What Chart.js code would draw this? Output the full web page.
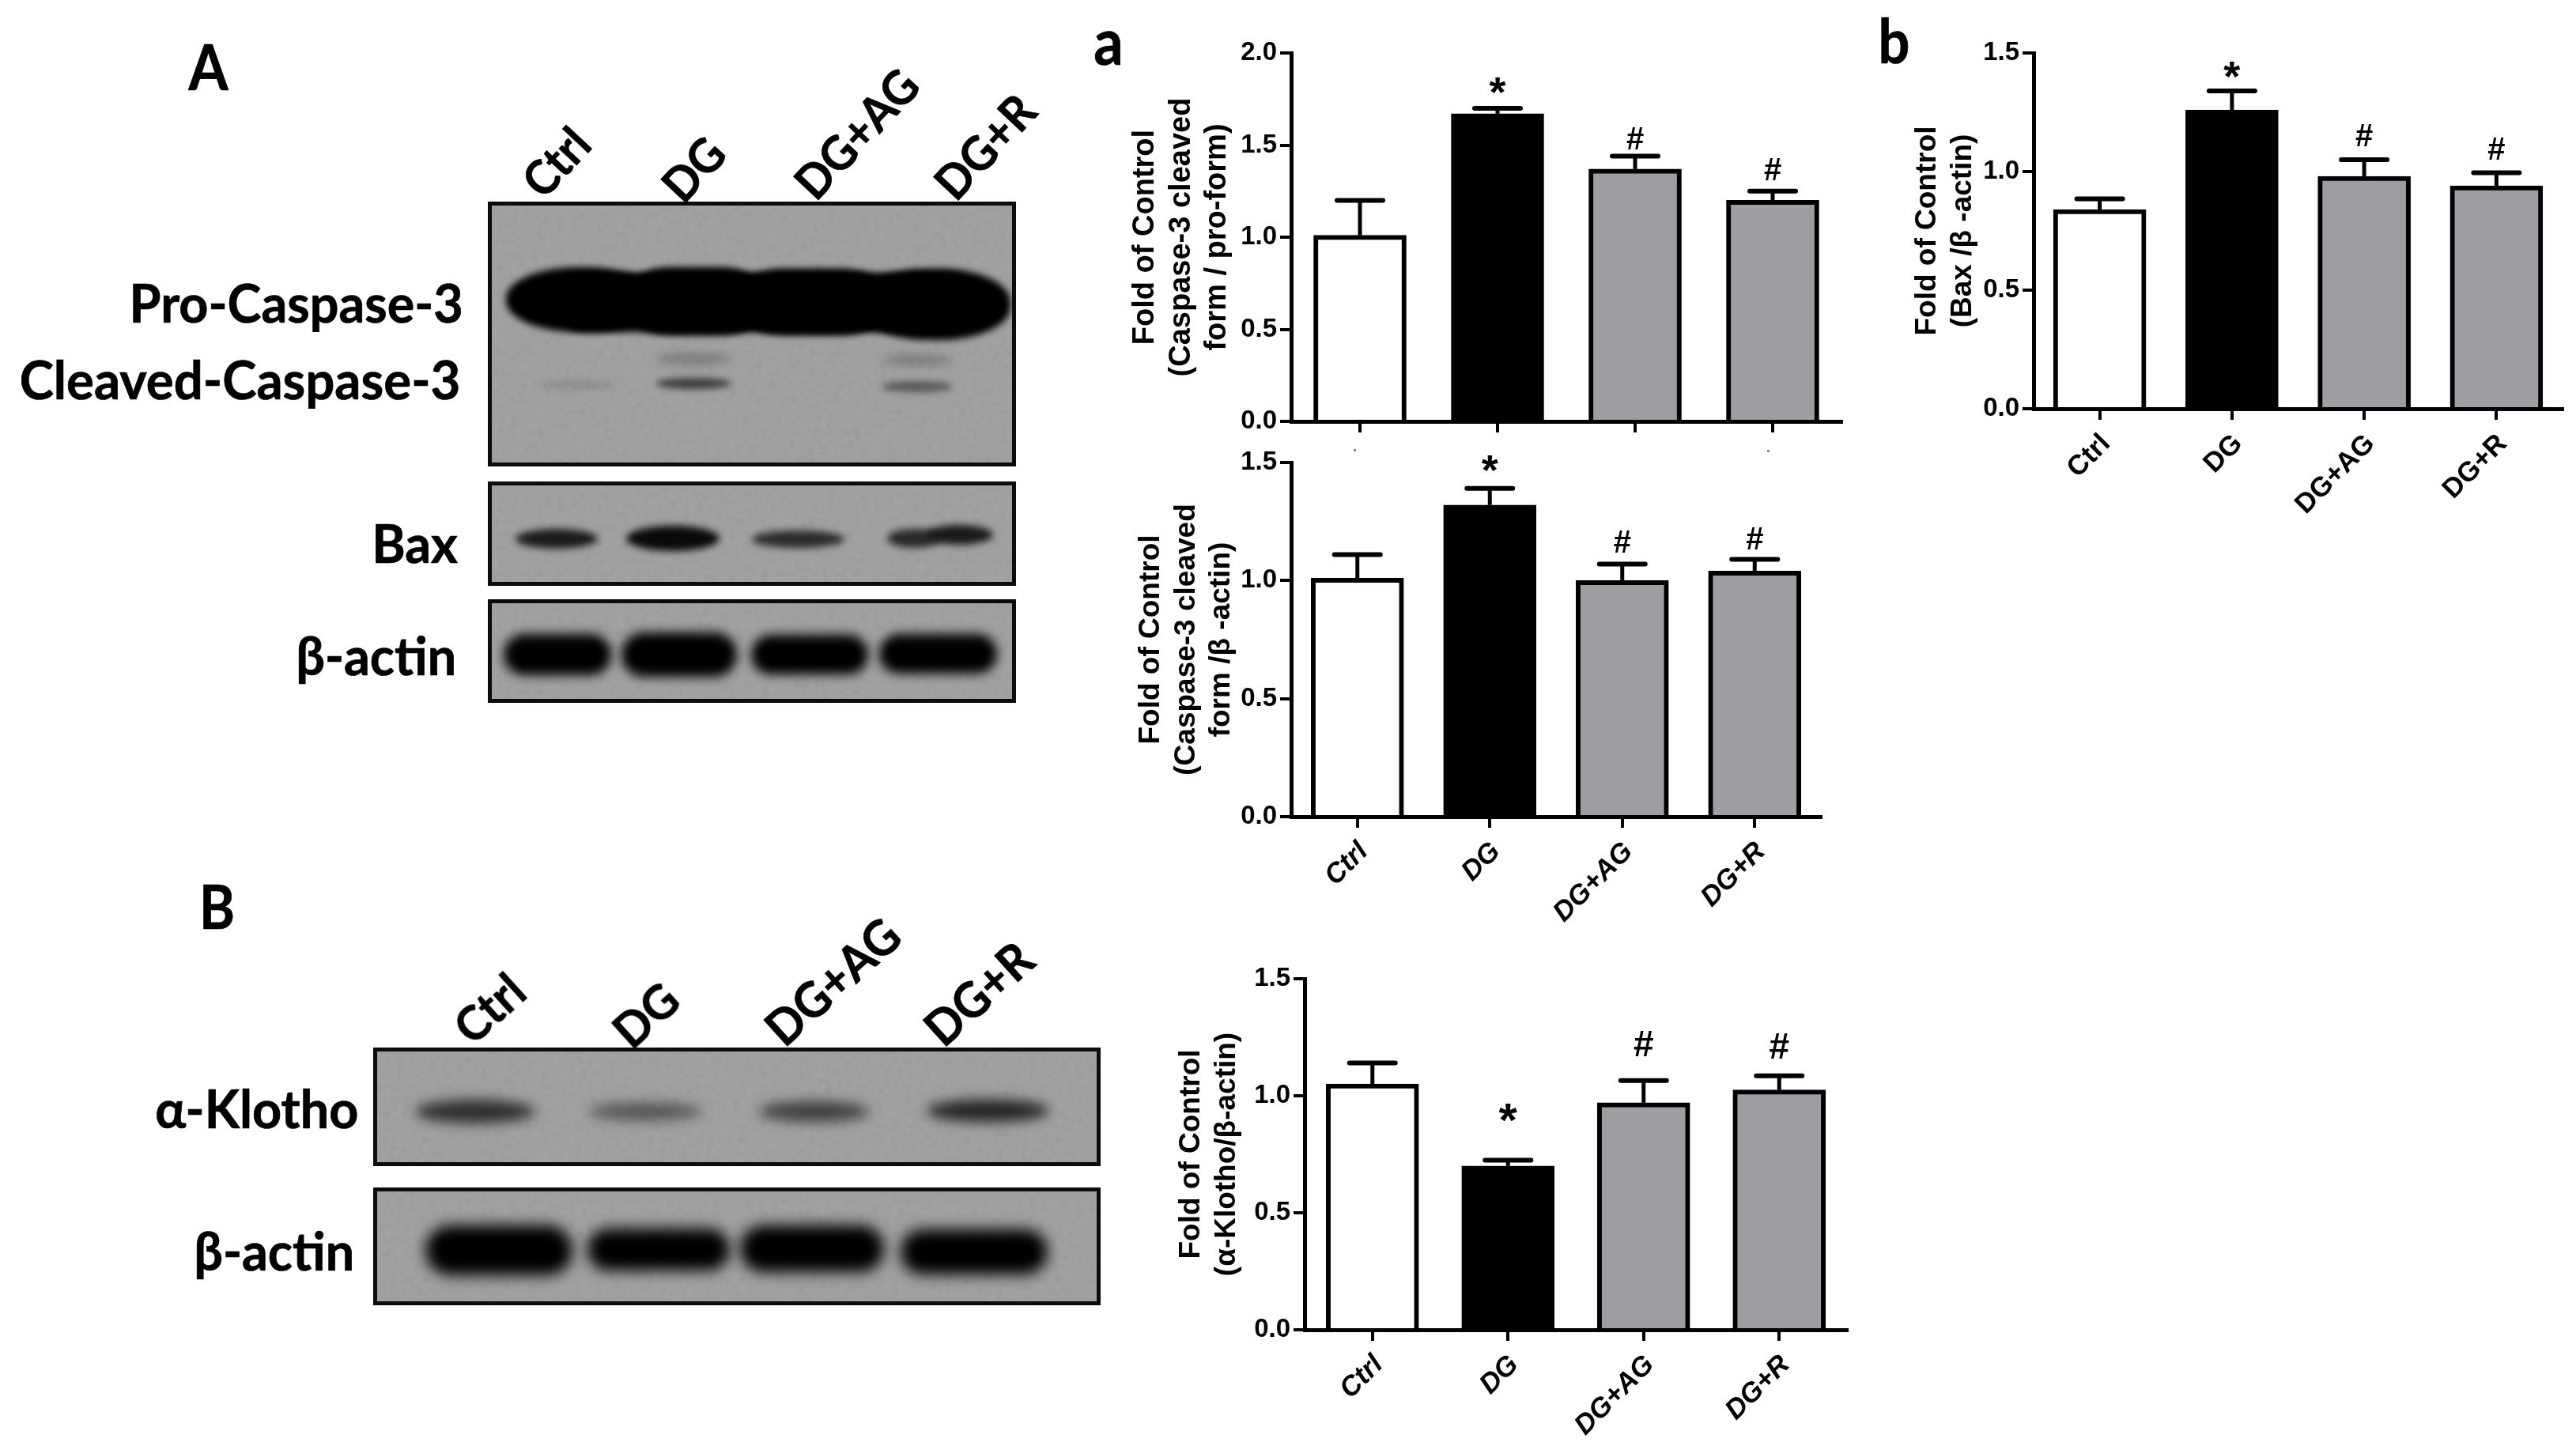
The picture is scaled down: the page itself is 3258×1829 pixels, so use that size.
<!DOCTYPE html>
<html lang="en">
<head>
<meta charset="UTF-8">
<title>Caspase-3, Bax and alpha-Klotho blots</title>
<style>
    html, body { margin: 0; padding: 0; background: #fff; }
    #page { position: relative; width: 3258px; height: 1829px; overflow: hidden; background: #fff; }
    canvas { position: absolute; }
    .lbl { position: absolute; font-family: Lato, sans-serif; font-weight: 700; color: #000; white-space: nowrap; line-height: 1; -webkit-text-stroke: .7px #000; }
    .blot { position: absolute; box-sizing: border-box; border: 5px solid #0c0c0c; background: #a4a4a4; overflow: hidden; }
    .band { position: absolute; background: #000; }
    .grain { position: absolute; inset: 0; opacity: .18; mix-blend-mode: multiply;
        background-image: url("data:image/svg+xml,%3Csvg xmlns='http://www.w3.org/2000/svg' width='400' height='400'%3E%3Cfilter id='n'%3E%3CfeTurbulence type='fractalNoise' baseFrequency='.12' numOctaves='3'/%3E%3CfeColorMatrix type='saturate' values='0'/%3E%3C/filter%3E%3Crect width='400' height='400' filter='url(%23n)'/%3E%3C/svg%3E"); }
</style>
</head>
<body>
<div id="page"></div>

<script src="https://cdn.jsdelivr.net/npm/chart.js"></script>
<script>
    // values
    const categories = ['Ctrl', 'DG', 'DG+AG', 'DG+R'];

    const cleavedProValues = [1.01, 1.67, 1.37, 1.20];
    const cleavedProErrors = [0.19, 0.03, 0.07, 0.05];
    const cleavedProMarks = ['', '*', '#', '#'];
    const cleavedProTicks = [0, 0.5, 1.0, 1.5, 2.0];

    const cleavedActinValues = [1.01, 1.32, 1.00, 1.04];
    const cleavedActinErrors = [0.10, 0.07, 0.07, 0.05];
    const cleavedActinMarks = ['', '*', '#', '#'];
    const cleavedActinTicks = [0, 0.5, 1.0, 1.5];

    const baxValues = [0.84, 1.26, 0.98, 0.94];
    const baxErrors = [0.045, 0.08, 0.07, 0.055];
    const baxMarks = ['', '*', '#', '#'];
    const baxTicks = [0, 0.5, 1.0, 1.5];

    const klothoValues = [1.05, 0.70, 0.97, 1.025];
    const klothoErrors = [0.09, 0.025, 0.095, 0.06];
    const klothoMarks = ['', '*', '#', '#'];
    const klothoTicks = [0, 0.5, 1.0, 1.5];

    const page = document.getElementById('page');
    const sansFont = "'Liberation Sans', Arial, sans-serif";
    const barColors = ['#ffffff', '#000000', '#9e9ea2', '#9e9ea2'];

    Chart.defaults.font.family = sansFont;
    Chart.defaults.color = '#000';
    Chart.defaults.animation = false;

    // error bars and the * / # signs, placed through the y scale
    const errorBars = {
        id: 'errorBars',
        afterDatasetsDraw(chart, args, opts) {
            const ctx = chart.ctx;
            const y = chart.scales.y;
            const bars = chart.getDatasetMeta(0).data;
            ctx.save();
            ctx.strokeStyle = '#000';
            ctx.fillStyle = '#000';
            bars.forEach((bar, i) => {
                const v = chart.data.datasets[0].data[i];
                const top = y.getPixelForValue(v + opts.errors[i]);
                ctx.lineWidth = 5;
                ctx.lineCap = 'butt';
                ctx.beginPath();
                ctx.moveTo(bar.x, y.getPixelForValue(v));
                ctx.lineTo(bar.x, top);
                ctx.stroke();
                ctx.lineWidth = 6;
                ctx.lineCap = 'round';
                ctx.beginPath();
                ctx.moveTo(bar.x - 29, top);
                ctx.lineTo(bar.x + 29, top);
                ctx.stroke();
                if (opts.marks[i]) {
                    const star = opts.marks[i] === '*';
                    ctx.font = 'bold ' + (star ? opts.starSize : opts.hashSize) + 'px ' + sansFont;
                    ctx.textAlign = 'center';
                    ctx.textBaseline = 'middle';
                    ctx.fillText(opts.marks[i], bar.x, top - opts.gaps[i] + (star ? 8 : 0));
                }
            });
            ctx.restore();
        }
    };

    function barPanel(p) {
        const pad = 40;
        const canvas = document.createElement('canvas');
        canvas.width = p.right - p.left + 12;
        canvas.height = p.zero - p.top + pad + p.xSpace;
        canvas.style.left = p.left + 'px';
        canvas.style.top = (p.top - pad) + 'px';
        page.appendChild(canvas);

        new Chart(canvas, {
            type: 'bar',
            data: {
                labels: categories,
                datasets: [{
                    data: p.values,
                    backgroundColor: barColors,
                    borderColor: '#000',
                    borderWidth: 6,
                    barThickness: 117
                }]
            },
            options: {
                responsive: false,
                layout: { padding: { top: pad, right: 12, left: 0, bottom: 0 } },
                plugins: {
                    legend: { display: false },
                    tooltip: { enabled: false },
                    errorBars: { errors: p.errors, marks: p.marks, gaps: p.gaps, starSize: p.starSize, hashSize: p.hashSize }
                },
                scales: {
                    x: {
                        z: 1,
                        afterFit: s => { s.height = p.xSpace; },
                        border: { color: '#000', width: 5 },
                        grid: { offset: false, drawOnChartArea: false, color: '#000', lineWidth: 4, tickLength: 14 },
                        ticks: {
                            display: p.showLabels,
                            autoSkip: false,
                            minRotation: 45,
                            maxRotation: 45,
                            padding: 10,
                            labelOffset: 8,
                            font: { size: 35, weight: 'bold', style: p.italic ? 'italic' : 'normal' }
                        }
                    },
                    y: {
                        min: 0,
                        max: p.ticks[p.ticks.length - 1],
                        afterFit: s => { s.width = p.axis - p.left; },
                        afterBuildTicks: s => { s.ticks = p.ticks.map(v => ({ value: v })); },
                        border: { color: '#000', width: 5 },
                        grid: { drawOnChartArea: false, color: '#000', lineWidth: 4, tickLength: 14 },
                        ticks: {
                            padding: 4,
                            font: { size: 33, weight: 'bold' },
                            callback: v => v.toFixed(1)
                        },
                        title: {
                            display: true,
                            text: p.title,
                            padding: 0,
                            font: { size: p.titleSize, weight: 'bold', lineHeight: 1.2 }
                        }
                    }
                }
            },
            plugins: [errorBars]
        });
    }

    barPanel({
        left: 1426, axis: 1633, right: 2329, top: 67, zero: 533, xSpace: 30,
        values: cleavedProValues, errors: cleavedProErrors, marks: cleavedProMarks, ticks: cleavedProTicks,
        gaps: [0, 25, 20, 25], starSize: 54, hashSize: 40, showLabels: false, italic: false, titleSize: 38,
        title: ['Fold of Control', '(Caspase-3 cleaved', 'form / pro-form)']
    });
    barPanel({
        left: 1434, axis: 1633, right: 2303, top: 585, zero: 1033, xSpace: 170,
        values: cleavedActinValues, errors: cleavedActinErrors, marks: cleavedActinMarks, ticks: cleavedActinTicks,
        gaps: [0, 28, 25, 23], starSize: 54, hashSize: 40, showLabels: true, italic: true, titleSize: 37,
        title: ['Fold of Control', '(Caspase-3 cleaved', 'form /\u03b2 -actin)']
    });
    barPanel({
        left: 2416, axis: 2572, right: 3241, top: 67, zero: 517, xSpace: 170,
        values: baxValues, errors: baxErrors, marks: baxMarks, ticks: baxTicks,
        gaps: [0, 23, 28, 28], starSize: 54, hashSize: 40, showLabels: true, italic: false, titleSize: 37,
        title: ['Fold of Control', '(Bax /\u03b2 -actin)']
    });
    barPanel({
        left: 1485, axis: 1650, right: 2336, top: 1238, zero: 1682, xSpace: 147,
        values: klothoValues, errors: klothoErrors, marks: klothoMarks, ticks: klothoTicks,
        gaps: [0, 55, 43, 35], starSize: 60, hashSize: 46, showLabels: true, italic: true, titleSize: 37,
        title: ['Fold of Control', '(\u03b1-Klotho/\u03b2-actin)']
    });

    // ---- western blot pictures, plain DOM ----
    function label(text, x, y, size, opts) {
        // x,y is the right-middle of the text
        const o = opts || {};
        const el = document.createElement('div');
        el.className = 'lbl';
        el.textContent = text;
        el.style.fontSize = size + 'px';
        el.style.top = (y - size / 2) + 'px';
        el.style.right = (3258 - x) + 'px';
        el.style.transformOrigin = 'right center';
        el.style.transform = (o.rot ? 'rotate(' + o.rot + 'deg) ' : '') + 'scaleX(' + (o.sx || 1) + ')';
        page.appendChild(el);
    }

    function blot(x1, y1, x2, y2, bands) {
        const el = document.createElement('div');
        el.className = 'blot';
        el.style.left = x1 + 'px';
        el.style.top = y1 + 'px';
        el.style.width = (x2 - x1) + 'px';
        el.style.height = (y2 - y1) + 'px';
        bands.forEach(b => {
            const d = document.createElement('div');
            d.className = 'band';
            d.style.left = (b[0] - x1 - 5) + 'px';
            d.style.top = (b[1] - y1 - 5) + 'px';
            d.style.width = (b[2] - b[0]) + 'px';
            d.style.height = (b[3] - b[1]) + 'px';
            d.style.background = b[4];
            d.style.filter = 'blur(' + b[5] + 'px)';
            d.style.borderRadius = (b[6] === undefined ? '50%' : b[6]);
            el.appendChild(d);
        });
        const g = document.createElement('div');
        g.className = 'grain';
        el.appendChild(g);
        page.appendChild(el);
    }

    blot(617, 255, 1285, 590, [
        [640, 338, 830, 420, '#000', 4, '48%'],
        [720, 345, 1220, 420, '#000', 4, '8%'],
        [800, 338, 960, 424, '#000', 4, '30%'],
        [940, 340, 1115, 424, '#000', 4, '30%'],
        [1085, 340, 1278, 430, '#000', 4, '46%'],
        [680, 482, 780, 492, '#8e8e8e', 4],
        [830, 478, 925, 492, '#3e3e3e', 4],
        [830, 447, 925, 461, '#7c7c7c', 6],
        [1115, 482, 1205, 496, '#5a5a5a', 4],
        [1115, 449, 1205, 462, '#7c7c7c', 6]
    ]);
    blot(617, 609, 1285, 741, [
        [652, 669, 756, 694, '#1c1c1c', 5],
        [792, 665, 910, 697, '#0a0a0a', 5],
        [951, 671, 1068, 693, '#2c2c2c', 5],
        [1122, 669, 1190, 693, '#2a2a2a', 5],
        [1170, 664, 1256, 689, '#1a1a1a', 5]
    ]);
    blot(617, 758, 1285, 889, [
        [637, 802, 773, 854, '#000', 7, '28px'],
        [786, 800, 932, 856, '#000', 7, '28px'],
        [950, 803, 1098, 853, '#000', 7, '28px'],
        [1112, 802, 1261, 852, '#000', 7, '28px']
    ]);
    blot(472, 1325, 1392, 1475, [
        [525, 1391, 677, 1421, '#303030', 8],
        [745, 1395, 888, 1417, '#555', 8],
        [960, 1393, 1099, 1419, '#414141', 8],
        [1172, 1391, 1327, 1419, '#232323', 8]
    ]);
    blot(472, 1502, 1392, 1651, [
        [538, 1550, 724, 1613, '#000', 9, '34px'],
        [743, 1554, 923, 1607, '#000', 9, '32px'],
        [936, 1550, 1118, 1609, '#000', 9, '34px'],
        [1139, 1555, 1325, 1612, '#000', 9, '32px']
    ]);

    label('A', 289, 83, 80, { sx: .9 });
    label('a', 1421, 50, 82, { sx: .9 });
    label('b', 2415, 50, 78, { sx: .9 });
    label('B', 297, 1146, 76, { sx: .9 });

    label('Pro-Caspase-3', 586, 383, 66, { sx: .98 });
    label('Cleaved-Caspase-3', 582, 480, 66, { sx: .99 });
    label('Bax', 579, 687, 66, { sx: .98 });
    label('\u03b2-actin', 577, 829, 66, { sx: .98 });
    label('\u03b1-Klotho', 453, 1402, 66, { sx: .98 });
    label('\u03b2-actin', 448, 1582, 66, { sx: .98 });

    // column heads over the blots
    label('Ctrl', 734, 170, 60, { rot: -47, sx: .95 });
    label('DG', 905, 182, 60, { rot: -47, sx: .95 });
    label('DG+AG', 1150, 96, 60, { rot: -47, sx: .95 });
    label('DG+R', 1298, 128, 60, { rot: -47, sx: .95 });
    label('Ctrl', 654, 1242, 62, { rot: -42, sx: .95 });
    label('DG', 848, 1253, 62, { rot: -42, sx: .95 });
    label('DG+AG', 1128, 1172, 62, { rot: -42, sx: .95 });
    label('DG+R', 1296, 1202, 62, { rot: -42, sx: .95 });

    // the two stray specks under the top panel
    [[1712, 568], [2235, 569]].forEach(s => {
        const d = document.createElement('div');
        d.style.cssText = 'position:absolute;width:3px;height:3px;background:#888;left:' + s[0] + 'px;top:' + s[1] + 'px';
        page.appendChild(d);
    });
</script>
</body>
</html>
